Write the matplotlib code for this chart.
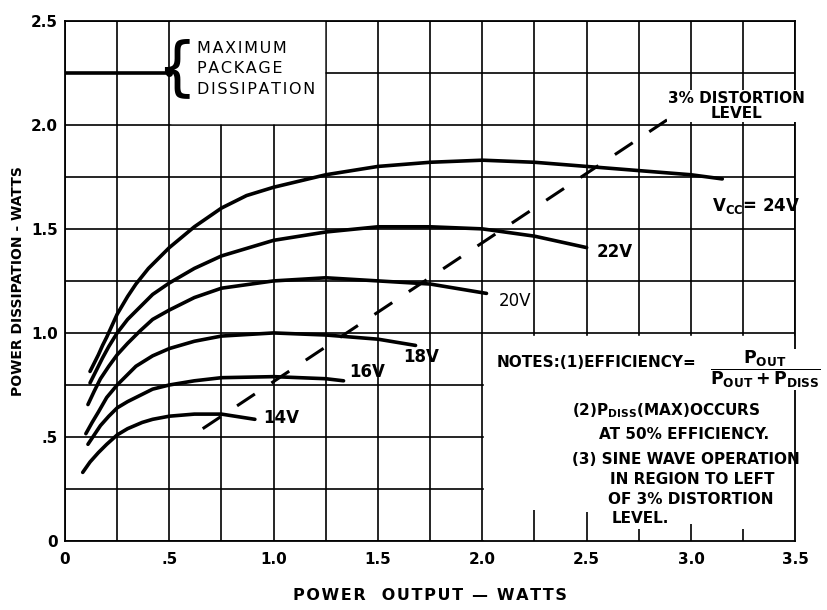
import numpy as np
import matplotlib.pyplot as plt
from matplotlib.patches import Rectangle

# curves (power output W, dissipation W)
x24 = [0.12, 0.14, 0.16, 0.18, 0.2, 0.225, 0.25, 0.3, 0.34, 0.4, 0.5, 0.62, 0.75, 0.87, 1.0, 1.25, 1.5, 1.75, 2.0, 2.25, 2.5, 2.75, 3.0, 3.15]
y24 = [0.815, 0.855, 0.895, 0.94, 0.98, 1.035, 1.09, 1.175, 1.235, 1.31, 1.41, 1.51, 1.60, 1.66, 1.70, 1.76, 1.80, 1.82, 1.83, 1.82, 1.80, 1.78, 1.76, 1.74]
x22 = [0.12, 0.15, 0.18, 0.21, 0.25, 0.3, 0.36, 0.42, 0.5, 0.62, 0.75, 1.0, 1.25, 1.5, 1.75, 2.0, 2.25, 2.5]
y22 = [0.76, 0.82, 0.88, 0.935, 1.0, 1.065, 1.125, 1.185, 1.24, 1.31, 1.37, 1.445, 1.485, 1.51, 1.51, 1.50, 1.465, 1.41]
x20 = [0.11, 0.14, 0.17, 0.21, 0.25, 0.3, 0.36, 0.42, 0.5, 0.62, 0.75, 1.0, 1.25, 1.5, 1.75, 2.02]
y20 = [0.656, 0.72, 0.78, 0.84, 0.895, 0.95, 1.01, 1.065, 1.11, 1.17, 1.215, 1.25, 1.265, 1.25, 1.235, 1.19]
x18 = [0.10, 0.13, 0.16, 0.2, 0.25, 0.3, 0.34, 0.42, 0.5, 0.62, 0.75, 1.0, 1.25, 1.5, 1.68]
y18 = [0.516, 0.57, 0.62, 0.69, 0.75, 0.80, 0.84, 0.89, 0.925, 0.96, 0.985, 1.0, 0.99, 0.97, 0.94]
x16 = [0.11, 0.14, 0.17, 0.21, 0.25, 0.3, 0.36, 0.42, 0.5, 0.62, 0.75, 1.0, 1.25, 1.335]
y16 = [0.465, 0.51, 0.555, 0.60, 0.64, 0.67, 0.70, 0.73, 0.75, 0.77, 0.785, 0.79, 0.78, 0.77]
x14 = [0.085, 0.12, 0.16, 0.2, 0.25, 0.3, 0.37, 0.42, 0.5, 0.62, 0.75, 0.91]
y14 = [0.33, 0.38, 0.425, 0.465, 0.51, 0.54, 0.57, 0.585, 0.60, 0.61, 0.61, 0.585]

# 3% distortion level and max package dissipation
dist_x = [0.66, 2.94]
dist_y = [0.54, 2.06]
pkg_x = [0, 0.5]
pkg_y = [2.25, 2.25]

curve_labels = ['V$_{\\mathbf{CC}}$= 24V', '22V', '20V', '18V', '16V', '14V']
label_pos = [(3.1, 1.61), (2.55, 1.39), (2.08, 1.155), (1.62, 0.885), (1.36, 0.81), (0.95, 0.59)]
label_bold = [True, True, False, True, True, True]

xticks = [0, 0.5, 1.0, 1.5, 2.0, 2.5, 3.0, 3.5]
xticklabels = ['0', '.5', '1.0', '1.5', '2.0', '2.5', '3.0', '3.5']
yticks = [0, 0.5, 1.0, 1.5, 2.0, 2.5]
yticklabels = ['0', '.5', '1.0', '1.5', '2.0', '2.5']

# leftover grid stubs in the notes box
stub_x = [2.25, 2.5, 2.75, 3.0, 3.25]
stub_h = [0.15, 0.14, 0.06, 0.08, 0.06]


def spaced(s, gap='\u200a'):
    return gap.join(s)


fig = plt.figure(figsize=(8.28, 6.10), dpi=100)
ax = fig.add_axes([0.0785, 0.113, 0.882, 0.853])

ax.set_xlim(0, 3.5)
ax.set_ylim(0, 2.5)
ax.set_xticks(xticks)
ax.set_xticklabels(xticklabels, fontsize=11, fontweight='bold')
ax.set_yticks(yticks)
ax.set_yticklabels(yticklabels, fontsize=11, fontweight='bold')
ax.set_xticks(np.arange(0, 3.51, 0.25), minor=True)
ax.set_yticks(np.arange(0, 2.51, 0.25), minor=True)
ax.tick_params(which='both', length=0)
ax.tick_params(axis='x', pad=8)
ax.tick_params(axis='y', pad=5)
ax.grid(True, which='both', color='black', linewidth=1.2)
for s in ax.spines.values():
    s.set_linewidth(1.3)

# blank areas behind the lettering
ax.add_patch(Rectangle((0.51, 2.01), 0.73, 0.5, color='white', zorder=1.6))
ax.add_patch(Rectangle((2.01, 0.0), 1.5, 0.985, color='white', zorder=1.6))
ax.vlines(stub_x, 0, stub_h, color='black', linewidth=1.2, zorder=1.7)

for xs, ys in [(x24, y24), (x22, y22), (x20, y20), (x18, y18), (x16, y16), (x14, y14)]:
    ax.plot(xs, ys, color='black', linewidth=2.6, solid_capstyle='round',
            solid_joinstyle='round', zorder=3)

ax.plot(dist_x, dist_y, color='black', linewidth=2.2, dashes=(7, 6.5), zorder=3)
ax.plot(pkg_x, pkg_y, color='black', linewidth=2.6, marker='o', markersize=4,
        markevery=[1], zorder=3)

for lab, (lx, ly), b in zip(curve_labels, label_pos, label_bold):
    ax.text(lx, ly, lab, fontsize=12, fontweight='bold' if b else 'normal',
            va='center', ha='left', zorder=4)

ax.text(0.632, 2.27, '{', fontsize=46, va='center', ha='right', zorder=4)
ax.text(0.635, 2.27, '\n'.join(spaced(w) for w in ['MAXIMUM', 'PACKAGE', 'DISSIPATION']),
        fontsize=11.5, va='center', ha='left', linespacing=1.45, zorder=4)

ax.text(3.22, 2.09, '3% DISTORTION\nLEVEL', fontsize=11, fontweight='bold', va='center',
        ha='center', linespacing=1.0, zorder=4,
        bbox=dict(facecolor='white', edgecolor='none', pad=1))

nb = dict(fontsize=11, fontweight='bold', va='center', ha='left', zorder=4)
ax.text(2.07, 0.86, 'NOTES:(1)EFFICIENCY=', **nb)
ax.text(3.09, 0.825, r'$\mathbf{\dfrac{P_{OUT}}{P_{OUT}+P_{DISS}}}$', fontsize=12.5,
        va='center', ha='left', zorder=4,
        bbox=dict(facecolor='white', edgecolor='none', pad=0))
ax.text(2.43, 0.625, r'(2)P$_{\mathbf{DISS}}$(MAX)OCCURS', **nb)
ax.text(2.56, 0.51, 'AT 50% EFFICIENCY.', **nb)
ax.text(2.43, 0.39, '(3) SINE WAVE OPERATION', **nb)
ax.text(2.61, 0.295, 'IN REGION TO LEFT', **nb)
ax.text(2.60, 0.20, 'OF 3% DISTORTION', **nb)
ax.text(2.62, 0.11, 'LEVEL.', **nb)

ax.set_xlabel(spaced('POWER  OUTPUT — WATTS'), fontsize=11.5, fontweight='bold')
ax.xaxis.set_label_coords(0.5, -0.09)
ax.set_ylabel('POWER DISSIPATION - WATTS', fontsize=10, fontweight='bold')
ax.yaxis.set_label_coords(-0.055, 0.5)

fig.savefig('out.png', dpi=100)
